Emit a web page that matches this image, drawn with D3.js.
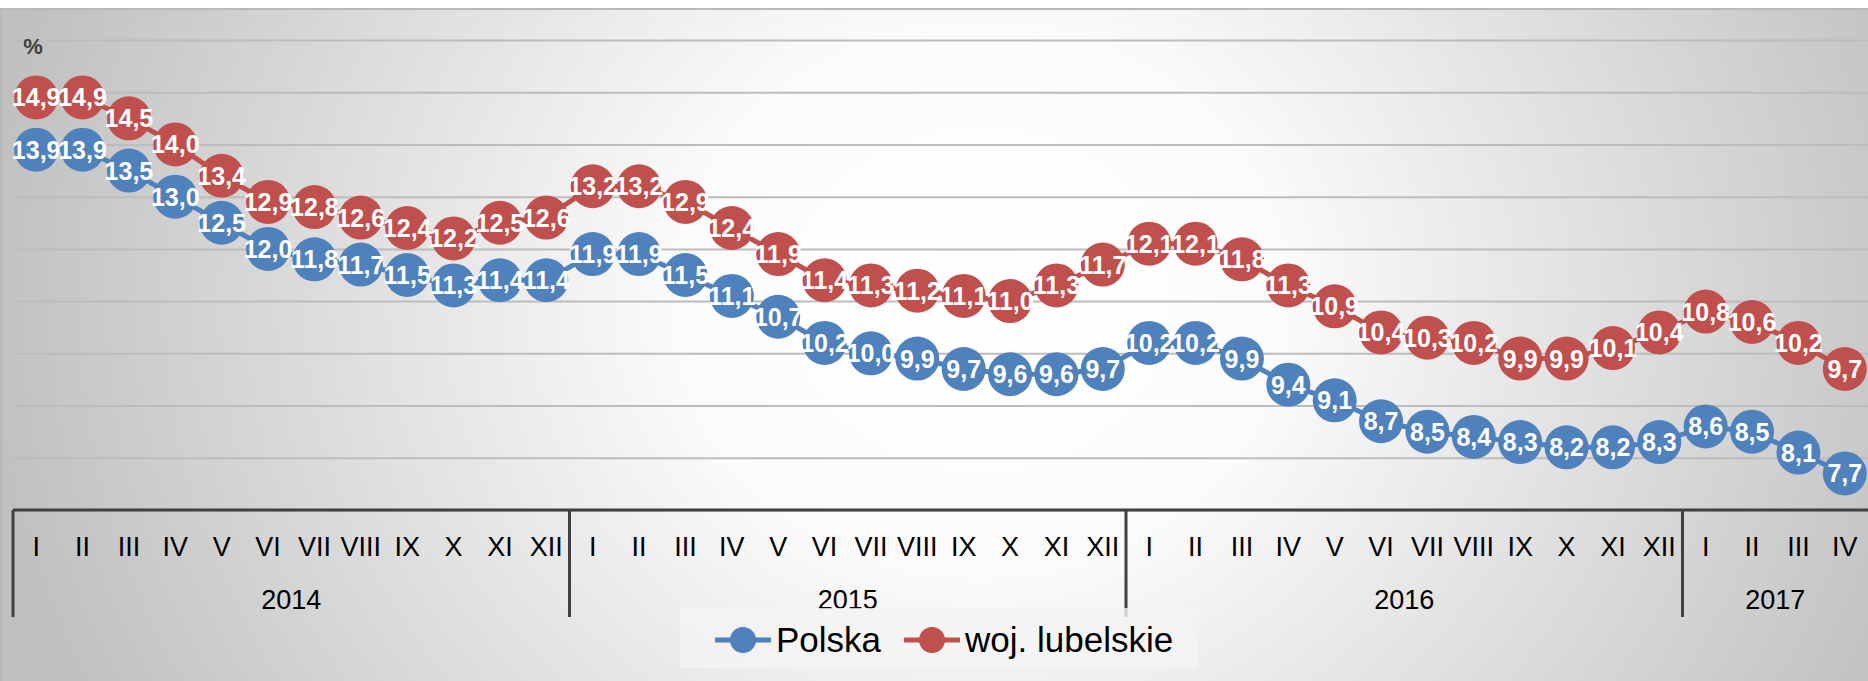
<!DOCTYPE html>
<html>
<head>
<meta charset="utf-8">
<script src="https://cdn.jsdelivr.net/npm/d3@7"></script>
<style>
  body { margin: 0; background: #fff; }
  svg { display: block; }
  .lbl { font-family: "Liberation Sans Narrow", "Arial Narrow", "Liberation Sans", sans-serif; }
</style>
</head>
<body>
<svg id="chart" width="1868" height="681"></svg>
<script>
// data
var years = ["2014", "2015", "2016", "2017"];
var monthsPerYear = [12, 12, 12, 4];
var romans = ["I","II","III","IV","V","VI","VII","VIII","IX","X","XI","XII"];
var seriesNames = ["Polska", "woj. lubelskie"];
var polska = [13.9,13.9,13.5,13.0,12.5,12.0,11.8,11.7,11.5,11.3,11.4,11.4,
              11.9,11.9,11.5,11.1,10.7,10.2,10.0,9.9,9.7,9.6,9.6,9.7,
              10.2,10.2,9.9,9.4,9.1,8.7,8.5,8.4,8.3,8.2,8.2,8.3,
              8.6,8.5,8.1,7.7];
var lubelskie = [14.9,14.9,14.5,14.0,13.4,12.9,12.8,12.6,12.4,12.2,12.5,12.6,
                 13.2,13.2,12.9,12.4,11.9,11.4,11.3,11.2,11.1,11.0,11.3,11.7,
                 12.1,12.1,11.8,11.3,10.9,10.4,10.3,10.2,9.9,9.9,10.1,10.4,
                 10.8,10.6,10.2,9.7];
var colors = ["#4F81BD", "#C0504D"];

// build category list
var cats = [];
years.forEach(function(y, i) {
  for (var m = 0; m < monthsPerYear[i]; m++) cats.push({key: y + "-" + romans[m], year: y, month: romans[m]});
});

var svg = d3.select("#chart");
var W = 1868, H = 681;

// background gradient
var defs = svg.append("defs");
var grad = defs.append("radialGradient")
    .attr("id", "bg")
    .attr("gradientUnits", "userSpaceOnUse")
    .attr("cx", 980).attr("cy", 300).attr("r", 1000)
    .attr("gradientTransform", "translate(980,300) scale(1,0.9) translate(-980,-300)");
grad.append("stop").attr("offset", "0").attr("stop-color", "#ffffff");
grad.append("stop").attr("offset", "0.3").attr("stop-color", "#fbfbfb");
grad.append("stop").attr("offset", "1").attr("stop-color", "#c0c0c0");

svg.append("rect")
    .attr("x", 1).attr("y", 9).attr("width", W + 10).attr("height", H)
    .attr("fill", "url(#bg)")
    .attr("stroke", "#b8b8b8").attr("stroke-width", 2);

var x = d3.scaleBand()
    .domain(cats.map(function(d) { return d.key; }))
    .range([13, W]);
var y = d3.scaleLinear()
    .domain([7, 16])
    .range([510, 40]);

// gridlines
svg.append("g")
    .attr("transform", "translate(13,0)")
    .call(d3.axisLeft(y).ticks(9).tickSize(-(W - 13)).tickFormat(""))
    .call(function(g) {
      g.select(".domain").remove();
      g.selectAll(".tick line").attr("stroke", "#bcbcbc").attr("stroke-width", 2);
    });

// % label
svg.append("text")
    .attr("class", "lbl")
    .attr("x", 33).attr("y", 54)
    .attr("text-anchor", "middle")
    .attr("font-size", 22).attr("font-weight", "bold")
    .attr("fill", "#404040")
    .text("%");

// x axis: months
var xAxis = svg.append("g").attr("transform", "translate(0,510)");
xAxis.append("line")
    .attr("x1", 13).attr("x2", W).attr("y1", 0).attr("y2", 0)
    .attr("stroke", "#404040").attr("stroke-width", 3);
xAxis.selectAll(".mlbl")
    .data(cats)
  .enter().append("text")
    .attr("class", "lbl mlbl")
    .attr("x", function(d) { return x(d.key) + x.bandwidth() / 2; })
    .attr("y", 46)
    .attr("text-anchor", "middle")
    .attr("font-size", 27)
    .attr("fill", "#000")
    .text(function(d) { return d.month; });

// year groups
var start = 0, yearGroups = [];
years.forEach(function(yr, i) {
  yearGroups.push({year: yr, first: cats[start].key, last: cats[start + monthsPerYear[i] - 1].key});
  start += monthsPerYear[i];
});
xAxis.selectAll(".sep")
    .data(yearGroups)
  .enter().append("line")
    .attr("x1", function(d) { return x(d.first); })
    .attr("x2", function(d) { return x(d.first); })
    .attr("y1", 0).attr("y2", 107)
    .attr("stroke", "#404040").attr("stroke-width", 3);
xAxis.selectAll(".ylbl")
    .data(yearGroups)
  .enter().append("text")
    .attr("class", "lbl")
    .attr("x", function(d) { return (x(d.first) + x(d.last) + x.bandwidth()) / 2; })
    .attr("y", 99)
    .attr("text-anchor", "middle")
    .attr("font-size", 27)
    .attr("fill", "#000")
    .text(function(d) { return d.year; });

// series
var allSeries = [polska, lubelskie];
var line = d3.line()
    .x(function(d, i) { return x(cats[i].key) + x.bandwidth() / 2; })
    .y(function(d) { return y(d); });

allSeries.forEach(function(vals, s) {
  var g = svg.append("g");
  g.append("path")
      .datum(vals)
      .attr("d", line)
      .attr("fill", "none")
      .attr("stroke", colors[s])
      .attr("stroke-width", 5);
  g.selectAll("circle")
      .data(vals)
    .enter().append("circle")
      .attr("cx", function(d, i) { return x(cats[i].key) + x.bandwidth() / 2; })
      .attr("cy", function(d) { return y(d); })
      .attr("r", 22)
      .attr("fill", colors[s]);
});
allSeries.forEach(function(vals, s) {
  svg.append("g").selectAll("text")
      .data(vals)
    .enter().append("text")
      .attr("class", "lbl")
      .attr("x", function(d, i) { return x(cats[i].key) + x.bandwidth() / 2; })
      .attr("y", function(d) { return y(d) + 9; })
      .attr("text-anchor", "middle")
      .attr("font-size", 25).attr("font-weight", "bold")
      .attr("fill", "#fff")
      .text(function(d) { return d.toFixed(1).replace(".", ","); });
});

// legend
var legend = svg.append("g").attr("transform", "translate(680,608)");
legend.append("rect")
    .attr("width", 518).attr("height", 60)
    .attr("fill", "#f4f4f4").attr("fill-opacity", 0.8);
var legX = [35, 224];
seriesNames.forEach(function(name, s) {
  var it = legend.append("g").attr("transform", "translate(" + legX[s] + ",32)");
  it.append("line").attr("x1", 0).attr("x2", 56).attr("y1", 0).attr("y2", 0)
      .attr("stroke", colors[s]).attr("stroke-width", 5);
  it.append("circle").attr("cx", 28).attr("cy", 0).attr("r", 13).attr("fill", colors[s]);
  it.append("text")
      .attr("class", "lbl")
      .attr("x", 61).attr("y", 12)
      .attr("font-size", 35)
      .attr("fill", "#000")
      .text(name);
});
</script>
</body>
</html>
